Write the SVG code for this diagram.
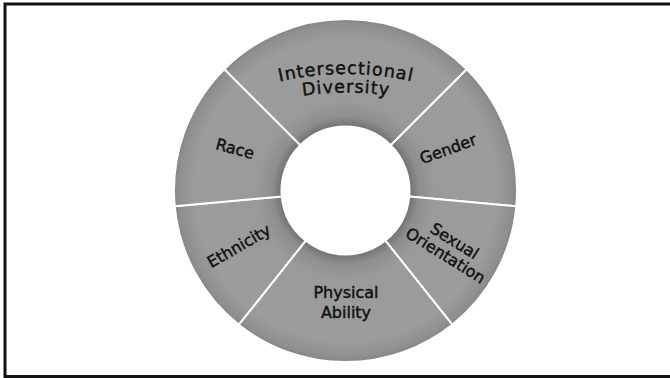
<svg xmlns="http://www.w3.org/2000/svg" width="670" height="378" viewBox="0 0 670 378">
  <defs>
    <radialGradient id="ringGrad" gradientUnits="userSpaceOnUse" cx="345.5" cy="190.5" r="171.5">
      <stop offset="0.37" stop-color="#6f6f6f"/>
      <stop offset="0.43" stop-color="#8e8e8e"/>
      <stop offset="0.52" stop-color="#9a9a9a"/>
      <stop offset="0.88" stop-color="#9c9c9c"/>
      <stop offset="0.97" stop-color="#8f8f8f"/>
      <stop offset="1" stop-color="#858585"/>
    </radialGradient>
    <path id="arcTop" d="M196,114.1 A300.5,300.5 0 0 1 496,114.1"/>
    <path id="arcBottom" d="M226,119.3 A282,282 0 0 1 466,119.3"/>
  </defs>
  <style>
    .seg { fill: url(#ringGrad); stroke: #ffffff; stroke-width: 2; stroke-linejoin: round; }
    .lbl { font-family: "DejaVu Sans", "Liberation Sans", sans-serif; font-size: 16px; fill: #111111; stroke: #111111; stroke-width: 0.45px; text-anchor: middle; }
    .big { font-size: 17.5px; letter-spacing: 1px; }
  </style>
  <rect width="670" height="378" fill="#ffffff"/>
  <rect x="5" y="4" width="690" height="372.5" fill="none" stroke="#111111" stroke-width="3"/>

  <g id="node-intersectional">
    <path class="seg" d="M224.23,69.23 A171.5,171.5 0 0 1 466.77,69.23 L390.75,145.25 A64,64 0 0 0 300.25,145.25 Z"/>
    <text class="lbl big"><textPath href="#arcTop" startOffset="50%">Intersectional</textPath></text>
    <text class="lbl big"><textPath href="#arcBottom" startOffset="50%">Diversity</textPath></text>
  </g>
  <g id="node-gender">
    <path class="seg" d="M466.77,69.23 A171.5,171.5 0 0 1 516.27,206.34 L409.23,196.41 A64,64 0 0 0 390.75,145.25 Z"/>
    <text class="lbl" transform="translate(450,154.2) rotate(-20)">Gender</text>
  </g>
  <g id="node-sexual-orientation">
    <path class="seg" d="M516.27,206.34 A171.5,171.5 0 0 1 452.26,324.72 L385.34,240.59 A64,64 0 0 0 409.23,196.41 Z"/>
    <g transform="translate(447.1,252.9) rotate(32)">
      <text class="lbl" x="0" y="-8.5">Sexual</text>
      <text class="lbl" x="0" y="8.5">Orientation</text>
    </g>
  </g>
  <g id="node-physical-ability">
    <path class="seg" d="M452.26,324.72 A171.5,171.5 0 0 1 238.74,324.72 L305.66,240.59 A64,64 0 0 0 385.34,240.59 Z"/>
    <text class="lbl" x="346" y="298.3">Physical</text>
    <text class="lbl" x="346" y="318.3">Ability</text>
  </g>
  <g id="node-ethnicity">
    <path class="seg" d="M238.74,324.72 A171.5,171.5 0 0 1 174.73,206.34 L281.77,196.41 A64,64 0 0 0 305.66,240.59 Z"/>
    <text class="lbl" transform="translate(241.7,250.8) rotate(-30)">Ethnicity</text>
  </g>
  <g id="node-race">
    <path class="seg" d="M174.73,206.34 A171.5,171.5 0 0 1 224.23,69.23 L300.25,145.25 A64,64 0 0 0 281.77,196.41 Z"/>
    <text class="lbl" transform="translate(233.6,154.1) rotate(15)">Race</text>
  </g>
  <g id="connectors"></g>
</svg>
